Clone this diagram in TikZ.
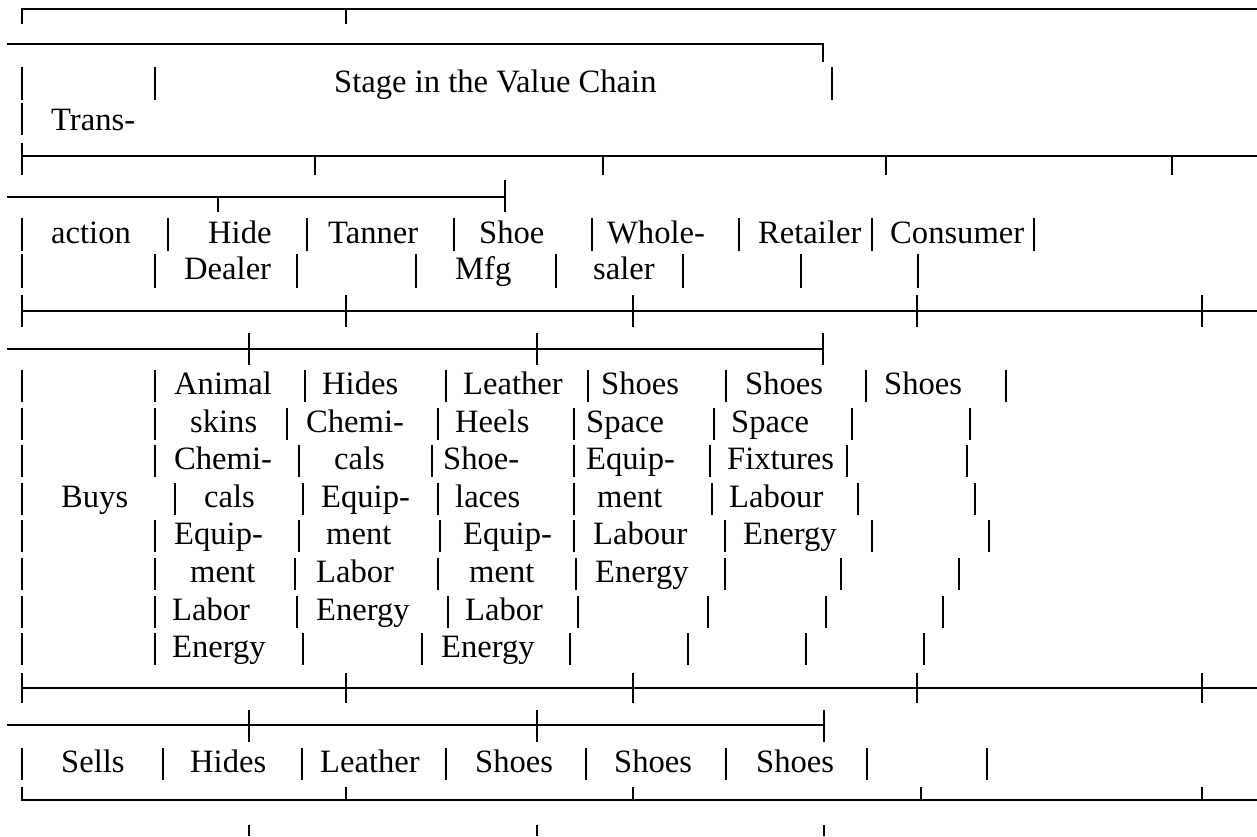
\documentclass[tikz,border=0pt]{standalone}
\usepackage{fontspec}
\setmainfont{Liberation Serif}
\newcommand\vbars[3]{\foreach \x in {#3} \draw (\x,#1)--(\x,#2);}
\begin{document}
\begin{tikzpicture}[x=0.5pt, y=-0.5pt, line width=1.2pt,
    cell/.style={anchor=base west, inner sep=0pt, font=\fontsize{16.3}{19}\selectfont}]
\useasboundingbox (0,0) rectangle (1257,836);
% heading block
\draw (22,24)--(22,9)--(1257,9);
\draw (346,9)--(346,24);
\draw (7,44)--(823,44)--(823,62);
\vbars{67}{100}{22,155,832}
\node[cell] (stage) at (333,92) {Stage in the Value Chain};
\vbars{103}{135}{22}
\node[cell] (trans) at (50,130) {Trans-};
\draw (22,156)--(1257,156);
\vbars{143}{175}{22}
\vbars{156}{175}{315,603,886,1172}
% stages
\draw (7,197)--(505,197);
\vbars{197}{212}{218}
\vbars{180}{212}{505}
\vbars{218}{251}{22,168,307,454,592,739,872,1034}
\node[cell] (action) at (50,243) {action};
\node[cell] (hide) at (207,243) {Hide};
\node[cell] (tanner) at (327,243) {Tanner};
\node[cell] (shoe) at (478,243) {Shoe};
\node[cell] (whole) at (606,243) {Whole-};
\node[cell] (retailer) at (757,243) {Retailer};
\node[cell] (consumer) at (889,243) {Consumer};
\vbars{254}{288}{22,155,297,416,556,683,801,918}
\node[cell] (dealer) at (183,279) {Dealer};
\node[cell] (mfg) at (454,279) {Mfg};
\node[cell] (saler) at (592,279) {saler};
\draw (22,311)--(1257,311);
\vbars{295}{327}{22,346,633,917,1202}
% buys
\draw (7,349)--(823,349);
\vbars{333}{365}{249,537,823}
\vbars{370}{402}{22,155,305,446,588,726,866,1006}
\node[cell] (animal) at (173,394) {Animal};
\node[cell] (thides) at (321,394) {Hides};
\node[cell] (leather) at (462,394) {Leather};
\node[cell] (wshoes) at (600,394) {Shoes};
\node[cell] (rshoes) at (744,394) {Shoes};
\node[cell] (cshoes) at (883,394) {Shoes};
\vbars{408}{440}{22,155,287,438,574,714,852,970}
\node[cell] (skins) at (189,432) {skins};
\node[cell] (tchem) at (305,432) {Chemi-};
\node[cell] (heels) at (454,432) {Heels};
\node[cell] (wspace) at (585,432) {Space};
\node[cell] (rspace) at (730,432) {Space};
\vbars{445}{477}{22,155,299,432,574,710,847,967}
\node[cell] (dchem) at (173,469) {Chemi-};
\node[cell] (tcals) at (333,469) {cals};
\node[cell] (shoel) at (442,469) {Shoe-};
\node[cell] (wequip) at (585,469) {Equip-};
\node[cell] (fixtures) at (726,469) {Fixtures};
\vbars{483}{515}{22,175,303,438,574,712,858,975}
\node[cell] (buys) at (60,507) {Buys};
\node[cell] (dcals) at (203,507) {cals};
\node[cell] (tequip) at (320,507) {Equip-};
\node[cell] (laces) at (454,507) {laces};
\node[cell] (wment) at (596,507) {ment};
\node[cell] (rlabour) at (728,507) {Labour};
\vbars{520}{552}{22,155,299,440,574,725,872,989}
\node[cell] (dequip) at (173,544) {Equip-};
\node[cell] (tment) at (325,544) {ment};
\node[cell] (sequip) at (462,544) {Equip-};
\node[cell] (wlabour) at (592,544) {Labour};
\node[cell] (renergy) at (742,544) {Energy};
\vbars{558}{590}{22,155,295,438,576,725,841,959}
\node[cell] (dment) at (189,582) {ment};
\node[cell] (tlabor) at (315,582) {Labor};
\node[cell] (sment) at (468,582) {ment};
\node[cell] (wenergy) at (594,582) {Energy};
\vbars{596}{628}{22,155,297,448,578,708,826,943}
\node[cell] (dlabor) at (171,620) {Labor};
\node[cell] (tenergy) at (315,620) {Energy};
\node[cell] (slabor) at (464,620) {Labor};
\vbars{633}{665}{22,155,303,422,570,688,806,924}
\node[cell] (denergy) at (171,657) {Energy};
\node[cell] (senergy) at (440,657) {Energy};
\draw (22,688)--(1257,688);
\vbars{673}{703}{22,346,633,917,1202}
% sells
\draw (7,725)--(824,725);
\vbars{710}{742}{249,537,824}
\vbars{748}{780}{22,163,302,446,586,726,867,987}
\node[cell] (sells) at (60,772) {Sells};
\node[cell] (dhides) at (189,772) {Hides};
\node[cell] (tleather) at (319,772) {Leather};
\node[cell] (sshoes) at (474,772) {Shoes};
\node[cell] (wsshoes) at (613,772) {Shoes};
\node[cell] (rsshoes) at (755,772) {Shoes};
\draw (22,787)--(22,800)--(1257,800);
\vbars{787}{800}{346,633,921,1202}
\vbars{825}{836}{249,537,824}
\end{tikzpicture}
\end{document}
